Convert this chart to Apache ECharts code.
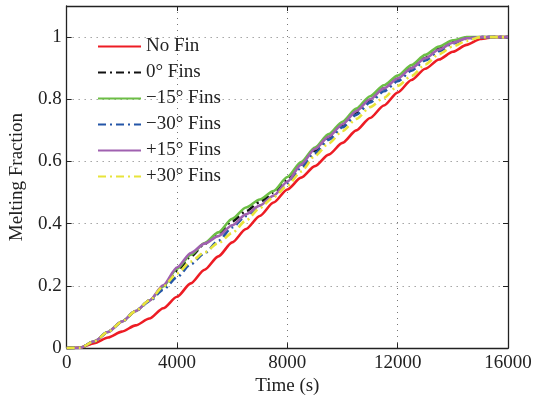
<!DOCTYPE html>
<html>
<head>
<meta charset="utf-8">
<script src="https://cdn.jsdelivr.net/npm/echarts@6/dist/echarts.min.js"></script>
<style>
  html, body { margin: 0; padding: 0; background: #fff; }
  #chart { width: 535px; height: 401px; }
</style>
</head>
<body>
<div id="chart"></div>
<script>
// Melting fraction vs time for the different fin configurations
const times = [0, 500, 1000, 1500, 2000, 2500, 3000, 3500, 4000, 4500, 5000, 5500, 6000, 6500, 7000, 7500,
  8000, 8500, 9000, 9500, 10000, 10500, 11000, 11500, 12000, 12500, 13000, 13500, 14000, 14500, 15000, 15500, 16000];

const noFin = [0, 0.002, 0.016, 0.034, 0.053, 0.073, 0.095, 0.128, 0.165, 0.208, 0.252, 0.295, 0.34, 0.383, 0.425, 0.468,
  0.51, 0.548, 0.585, 0.622, 0.66, 0.70, 0.74, 0.78, 0.822, 0.862, 0.898, 0.928, 0.953, 0.975, 0.994, 1.0, 1.0];
const fin0 = [0, 0.001, 0.022, 0.052, 0.085, 0.119, 0.153, 0.196, 0.248, 0.295, 0.335, 0.37, 0.408, 0.44, 0.47, 0.5,
  0.54, 0.59, 0.635, 0.678, 0.718, 0.758, 0.798, 0.835, 0.866, 0.9, 0.933, 0.962, 0.985, 0.998, 1.0, 1.0, 1.0];
const finM15 = [0, 0.001, 0.022, 0.052, 0.085, 0.119, 0.153, 0.198, 0.255, 0.3, 0.338, 0.372, 0.416, 0.452, 0.478, 0.505,
  0.55, 0.598, 0.645, 0.688, 0.728, 0.77, 0.81, 0.845, 0.876, 0.91, 0.943, 0.97, 0.99, 1.0, 1.0, 1.0, 1.0];
const finM30 = [0, 0.001, 0.022, 0.052, 0.085, 0.119, 0.15, 0.188, 0.228, 0.27, 0.305, 0.345, 0.388, 0.425, 0.458, 0.49,
  0.53, 0.58, 0.627, 0.67, 0.71, 0.75, 0.79, 0.826, 0.858, 0.892, 0.925, 0.955, 0.98, 0.995, 1.0, 1.0, 1.0];
const finP15 = [0, 0.001, 0.022, 0.052, 0.085, 0.119, 0.153, 0.202, 0.259, 0.306, 0.336, 0.36, 0.395, 0.43, 0.458, 0.49,
  0.535, 0.59, 0.64, 0.68, 0.72, 0.762, 0.8, 0.835, 0.867, 0.9, 0.932, 0.96, 0.982, 0.996, 1.0, 1.0, 1.0];
const finP30 = [0, 0.001, 0.022, 0.052, 0.085, 0.119, 0.153, 0.198, 0.24, 0.278, 0.308, 0.338, 0.37, 0.41, 0.45, 0.485,
  0.522, 0.568, 0.618, 0.658, 0.698, 0.737, 0.775, 0.805, 0.843, 0.875, 0.912, 0.945, 0.97, 0.988, 1.0, 1.0, 1.0];

const xTicks = [0, 4000, 8000, 12000, 16000];
const yTicks = [0, 0.2, 0.4, 0.6, 0.8, 1];

const seriesDefs = [
  { name: 'No Fin', values: noFin, color: '#ED1C24', dash: 'solid' },
  { name: '0\u00B0 Fins', values: fin0, color: '#111111', dash: [8, 4, 2, 4] },
  { name: '\u221215\u00B0 Fins', values: finM15, color: '#6CBE45', dash: 'solid' },
  { name: '\u221230\u00B0 Fins', values: finM30, color: '#2456A8', dash: [8, 4, 2, 4] },
  { name: '+15\u00B0 Fins', values: finP15, color: '#A061B0', dash: 'solid' },
  { name: '+30\u00B0 Fins', values: finP30, color: '#E8E43A', dash: [8, 4, 2, 4] }
];

const font = 'Liberation Serif, Times New Roman, serif';
const axisLine = { show: true, onZero: false, lineStyle: { color: '#222', width: 1.3 } };
const axisTick = { show: true, inside: true, length: 5, lineStyle: { color: '#222' } };
const gridLine = { show: true, lineStyle: { color: '#777', width: 1, type: [1, 5] } };

const chart = echarts.init(document.getElementById('chart'), null, { renderer: 'canvas' });

chart.setOption({
  animation: false,
  backgroundColor: '#fff',
  grid: { left: 64, right: 27, top: 6, bottom: 46, containLabel: false },
  legend: {
    orient: 'vertical',
    left: 97,
    top: 37,
    padding: 0,
    itemWidth: 43,
    itemHeight: 14,
    itemGap: 7,
    itemStyle: { opacity: 0 },
    textStyle: { fontFamily: font, fontSize: 19, color: '#222', lineHeight: 19 },
    data: seriesDefs.map(s => s.name)
  },
  xAxis: [
    {
      type: 'value', min: xTicks[0], max: xTicks[xTicks.length - 1], interval: 4000,
      name: 'Time (s)', nameLocation: 'middle', nameGap: 23,
      nameTextStyle: { fontFamily: font, fontSize: 19, color: '#222', verticalAlign: 'top' },
      axisLine: axisLine,
      axisTick: axisTick,
      axisLabel: { fontFamily: font, fontSize: 19, color: '#222', margin: 5, formatter: v => String(v) },
      splitLine: gridLine
    },
    {
      type: 'value', position: 'top', min: xTicks[0], max: xTicks[xTicks.length - 1], interval: 4000,
      axisLine: axisLine,
      axisTick: axisTick,
      axisLabel: { show: false },
      splitLine: { show: false }
    }
  ],
  yAxis: [
    {
      type: 'value', min: 0, max: 1.1, interval: 0.2,
      name: 'Melting Fraction', nameLocation: 'middle', nameGap: 28,
      nameTextStyle: { fontFamily: font, fontSize: 19, color: '#222' },
      axisLine: axisLine,
      axisTick: axisTick,
      axisLabel: {
        fontFamily: font, fontSize: 19, color: '#222', margin: 5, showMaxLabel: false,
        formatter: v => (yTicks.indexOf(Math.round(v * 10) / 10) >= 0 ? String(Math.round(v * 10) / 10) : '')
      },
      splitLine: gridLine
    },
    {
      type: 'value', position: 'right', min: 0, max: 1.1, interval: 0.2,
      axisLine: axisLine,
      axisTick: axisTick,
      axisLabel: { show: false },
      splitLine: { show: false }
    }
  ],
  series: seriesDefs.map(s => ({
    name: s.name,
    type: 'line',
    xAxisIndex: 0,
    yAxisIndex: 0,
    symbol: 'none',
    smooth: 0.25,
    smoothMonotone: 'x',
    color: s.color,
    lineStyle: { color: s.color, width: 2.6, type: s.dash },
    data: times.map((t, i) => [t, s.values[i]])
  }))
});
</script>
</body>
</html>
